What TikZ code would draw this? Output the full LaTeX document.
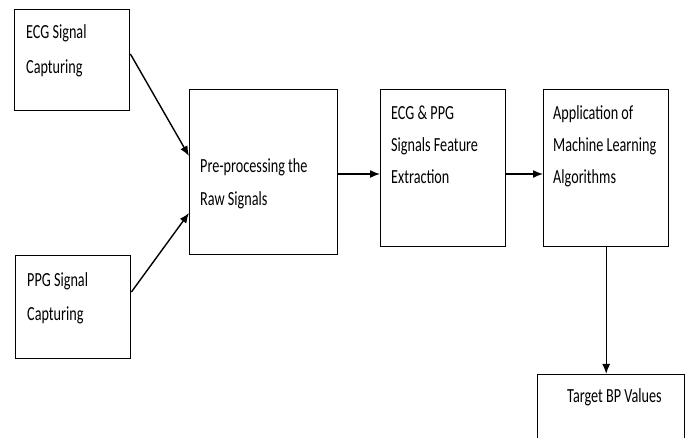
\documentclass[tikz,border=0pt]{standalone}
\usepackage{fontspec}
\setmainfont{Carlito}
\usepackage{graphicx}
\usetikzlibrary{arrows.meta}
\newcommand{\sqtext}[1]{\scalebox{0.71}[1]{\begin{tabular}[t]{@{}l@{}}#1\end{tabular}}}
\tikzset{
  box/.style={draw,line width=1.4pt,rectangle,inner sep=0pt,anchor=north west},
  lbl/.style={anchor=base west,inner sep=0pt,font=\fontsize{20}{33}\selectfont},
  conn/.style={line width=1.4pt,-{Latex[length=10pt,width=8pt]}}
}
\begin{document}
\begin{tikzpicture}[x=1pt,y=-1pt]
\clip (0,0) rectangle (689,438);
\fill[white] (0,0) rectangle (689,438);
% boxes
\node[box,minimum width=115pt,minimum height=101pt] (ecg) at (14,9) {};
\node[box,minimum width=115pt,minimum height=103pt] (ppg) at (15,255) {};
\node[box,minimum width=148pt,minimum height=165pt] (pre) at (189,89) {};
\node[box,minimum width=125pt,minimum height=157pt] (feat) at (380,89) {};
\node[box,minimum width=125pt,minimum height=157pt] (ml) at (543,89) {};
\node[box,minimum width=147pt,minimum height=100pt] (tgt) at (537,374) {};
% labels
\node[lbl,font=\fontsize{20}{35}\selectfont] (tecg) at (26,39) {\sqtext{ECG Signal\\Capturing}};
\node[lbl,font=\fontsize{20}{34}\selectfont] (tppg) at (27,287) {\sqtext{PPG Signal\\Capturing}};
\node[lbl] (tpre) at (200,173) {\sqtext{Pre-processing the\\Raw Signals}};
\node[lbl,font=\fontsize{20}{32}\selectfont] (tfeat) at (391,120) {\sqtext{ECG \& PPG\\Signals Feature\\Extraction}};
\node[lbl,font=\fontsize{20}{32}\selectfont] (tml) at (553,120) {\sqtext{Application of\\Machine Learning\\Algorithms}};
\node[lbl] (ttgt) at (567,403) {\sqtext{Target BP Values}};
% connectors
\draw[conn] ([yshift=-45pt]ecg.north east) -- ([yshift=-67pt]pre.north west);
\draw[conn] ([yshift=-37pt]ppg.north east) -- ([yshift=-124pt]pre.north west);
\draw[conn] ([yshift=-85pt]pre.north east) -- ([yshift=-85pt]feat.north west);
\draw[conn] ([yshift=-85pt]feat.north east) -- ([yshift=-85pt]ml.north west);
\draw[conn] (ml.south) -- (ml.south |- tgt.north);
\end{tikzpicture}
\end{document}
